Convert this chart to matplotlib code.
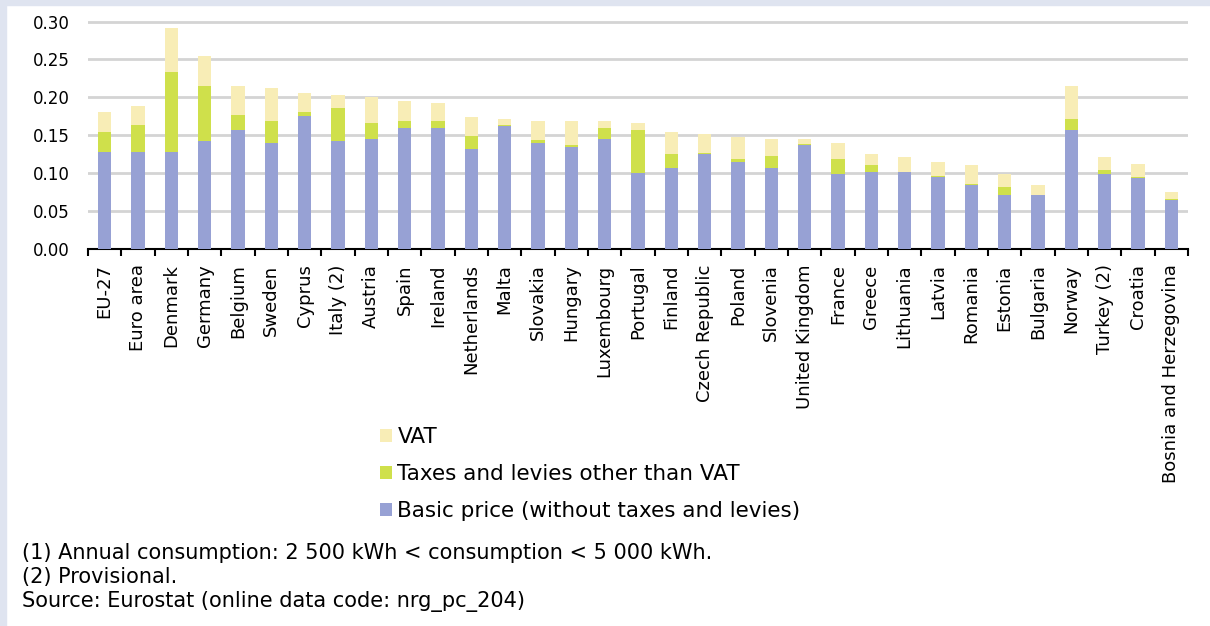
import matplotlib
matplotlib.use("Agg")
import matplotlib.pyplot as plt
from matplotlib.patches import Rectangle
import numpy as np

plt.rcParams['font.family'] = ['DejaVu Sans']

countries = ["EU-27", "Euro area", "Denmark", "Germany", "Belgium", "Sweden", "Cyprus",
             "Italy (2)", "Austria", "Spain", "Ireland", "Netherlands", "Malta", "Slovakia",
             "Hungary", "Luxembourg", "Portugal", "Finland", "Czech Republic", "Poland",
             "Slovenia", "United Kingdom", "France", "Greece", "Lithuania", "Latvia",
             "Romania", "Estonia", "Bulgaria", "Norway", "Turkey (2)", "Croatia",
             "Bosnia and Herzegovina"]

# cumulative tops
basic_top = [0.127, 0.127, 0.127, 0.142, 0.157, 0.139, 0.175, 0.142, 0.145, 0.160,
             0.160, 0.131, 0.162, 0.140, 0.134, 0.145, 0.100, 0.107, 0.125, 0.115,
             0.107, 0.137, 0.098, 0.101, 0.101, 0.095, 0.084, 0.071, 0.071, 0.157,
             0.098, 0.093, 0.064]
taxes_top = [0.154, 0.163, 0.234, 0.215, 0.177, 0.169, 0.180, 0.186, 0.166, 0.169,
             0.169, 0.149, 0.163, 0.143, 0.137, 0.160, 0.157, 0.125, 0.126, 0.119,
             0.122, 0.138, 0.119, 0.110, 0.101, 0.096, 0.085, 0.081, 0.071, 0.171,
             0.104, 0.094, 0.065]
vat_top = [0.180, 0.189, 0.292, 0.254, 0.215, 0.212, 0.206, 0.203, 0.200, 0.195,
           0.192, 0.174, 0.171, 0.169, 0.169, 0.169, 0.166, 0.154, 0.151, 0.148,
           0.145, 0.145, 0.139, 0.125, 0.121, 0.115, 0.110, 0.098, 0.084, 0.215,
           0.121, 0.112, 0.075]

basic = np.array(basic_top)
taxes = np.array(taxes_top) - basic
vat = np.array(vat_top) - np.array(taxes_top)

c_basic = "#97a1d4"
c_taxes = "#cfe04b"
c_vat = "#f8edb6"
bg = "#dfe4f0"

fig = plt.figure(figsize=(12.1, 6.26), dpi=100)
fig.patch.set_facecolor("white")
# light border band top / left
fig.add_artist(Rectangle((0, 0), 6 / 1210, 1, transform=fig.transFigure, color=bg, zorder=0))
fig.add_artist(Rectangle((0, 1 - 5 / 626), 1, 5 / 626, transform=fig.transFigure, color=bg, zorder=0))

ax = fig.add_axes([88 / 1210, 1 - 248.5 / 626, 1100 / 1210, 228 / 626])
x = np.arange(len(countries))
w = 0.4
ax.bar(x, basic, w, color=c_basic, zorder=3, label="Basic price (without taxes and levies)")
ax.bar(x, taxes, w, bottom=basic, color=c_taxes, zorder=3, label="Taxes and levies other than VAT")
ax.bar(x, vat, w, bottom=basic + taxes, color=c_vat, zorder=3, label="VAT")

ax.set_xlim(-0.5, len(countries) - 0.5)
ax.set_ylim(0, 0.3015)
yt = np.arange(0, 0.301, 0.05)
ax.set_yticks(yt)
ax.set_yticklabels([f"{v:.2f}" for v in yt], fontsize=12)
ax.yaxis.grid(True, color="#d4d4d4", linewidth=2, zorder=0)
ax.tick_params(axis="y", length=0, pad=13)
for s in ["top", "right", "left"]:
    ax.spines[s].set_visible(False)
ax.spines["bottom"].set_linewidth(1.5)
ax.spines["bottom"].set_color("black")

ax.set_xticks(x)
ax.set_xticklabels(countries, rotation=90, fontsize=13)
ax.tick_params(axis="x", length=0, pad=11.5)
ax.set_xticks(np.arange(-0.5, len(countries), 1), minor=True)
ax.tick_params(axis="x", which="minor", length=5, width=1.5, direction="out")

handles, labels = ax.get_legend_handles_labels()
leg = fig.legend(handles[::-1], labels[::-1], loc="upper left",
                 bbox_to_anchor=(380 / 1210, 1 - 427 / 626), frameon=False,
                 fontsize=15.5, handlelength=0.56, handleheight=0.56, handletextpad=0.25,
                 labelspacing=0.8, borderpad=0, borderaxespad=0)

notes = ["(1) Annual consumption: 2 500 kWh < consumption < 5 000 kWh.",
         "(2) Provisional.",
         "Source: Eurostat (online data code: nrg_pc_204)"]
for i, t in enumerate(notes):
    fig.text(22 / 1210, 1 - (553 + 24 * i) / 626, t, fontsize=15, va="center", ha="left")

fig.savefig("out.png", dpi=100, facecolor=fig.get_facecolor())
